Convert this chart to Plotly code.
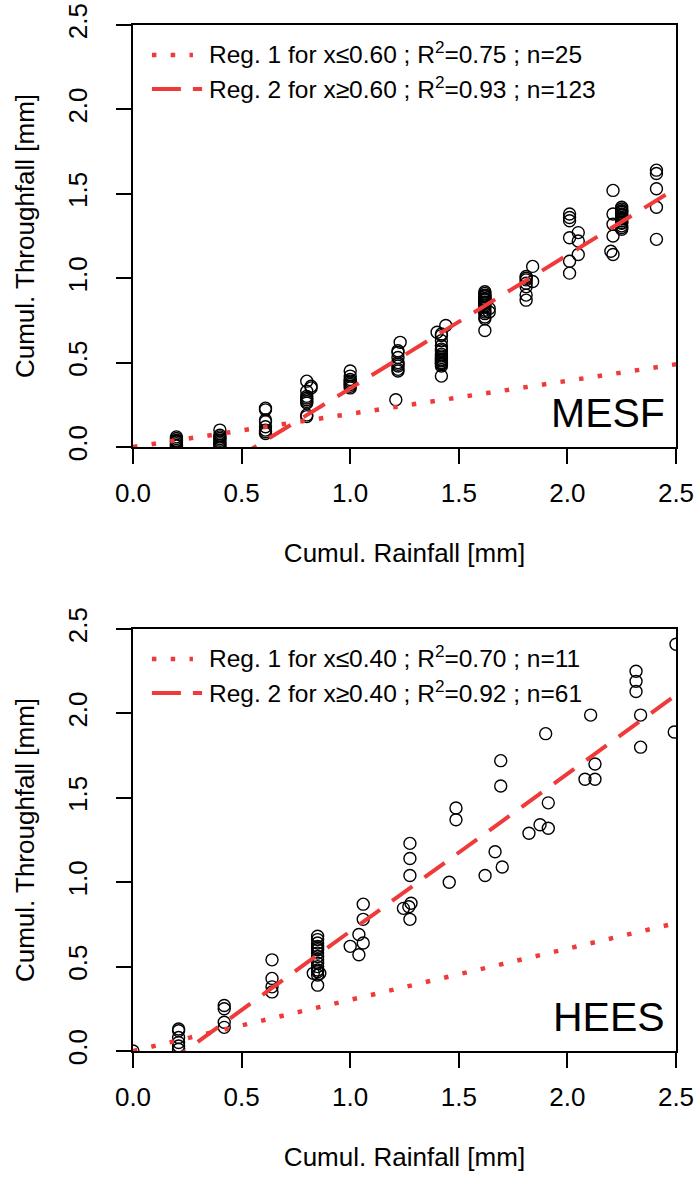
import plotly.graph_objects as go

# ---------------- DATA ----------------
# MESF (top panel)
mesf_x = ([0.20]*8 + [0.40]*9 + [0.61]*8 +
          [0.80]*9 + [0.82]*2 +
          [1.00]*8 +
          [1.23] + [1.22]*8 + [1.21] +
          [1.44, 1.40] + [1.42]*17 +
          [1.62]*19 + [1.64]*2 +
          [1.81]*7 + [1.84]*2 +
          [2.01]*6 + [2.05]*3 +
          [2.21]*4 + [2.20, 2.21] + [2.25]*17 +
          [2.41]*5)
mesf_y = ([0.06, 0.05, 0.04, 0.035, 0.03, 0.02, 0.01, 0.005] +
          [0.10, 0.07, 0.06, 0.05, 0.04, 0.03, 0.02, 0.01, 0.0] +
          [0.23, 0.22, 0.16, 0.15, 0.12, 0.10, 0.09, 0.08] +
          [0.39, 0.33, 0.29, 0.28, 0.27, 0.26, 0.19, 0.18, 0.30] + [0.36, 0.35] +
          [0.45, 0.42, 0.40, 0.39, 0.38, 0.37, 0.36, 0.35] +
          [0.62] + [0.57, 0.56, 0.53, 0.50, 0.49, 0.48, 0.46, 0.45] + [0.28] +
          [0.72, 0.68] + [0.67, 0.66, 0.63, 0.60, 0.58, 0.57, 0.55, 0.54, 0.53,
                          0.52, 0.515, 0.51, 0.50, 0.495, 0.49, 0.48, 0.42] +
          [0.92, 0.91, 0.90, 0.895, 0.89, 0.88, 0.875, 0.87, 0.86, 0.855, 0.85,
           0.84, 0.83, 0.81, 0.80, 0.79, 0.77, 0.76, 0.69] + [0.80, 0.82] +
          [1.01, 1.00, 0.99, 0.97, 0.95, 0.90, 0.87] + [1.07, 0.98] +
          [1.38, 1.36, 1.34, 1.24, 1.10, 1.03] + [1.27, 1.22, 1.14] +
          [1.52, 1.38, 1.32, 1.25] + [1.16, 1.14] +
          [1.42, 1.41, 1.40, 1.395, 1.39, 1.38, 1.375, 1.37, 1.36, 1.355, 1.35,
           1.34, 1.33, 1.325, 1.31, 1.30, 1.29] +
          [1.64, 1.62, 1.53, 1.42, 1.23])

# HEES (bottom panel)
hees_x = ([0.00] + [0.21]*6 + [0.42]*4 + [0.64]*4 +
          [0.85]*15 + [0.83, 0.86] +
          [1.00, 1.04, 1.04, 1.06, 1.06, 1.06] +
          [1.275, 1.275, 1.275, 1.28, 1.27, 1.245, 1.275] +
          [1.456, 1.487, 1.487, 1.621, 1.667, 1.70, 1.693, 1.693, 1.823, 1.874,
           1.912, 1.912, 1.90, 2.081, 2.127, 2.127, 2.107, 2.316, 2.316, 2.316,
           2.337, 2.337, 2.492, 2.50])
hees_y = ([0.0] + [0.13, 0.12, 0.08, 0.05, 0.03, 0.01] +
          [0.27, 0.25, 0.17, 0.14] +
          [0.54, 0.43, 0.38, 0.35] +
          [0.68, 0.66, 0.64, 0.62, 0.61, 0.60, 0.58, 0.56, 0.54, 0.52, 0.50,
           0.48, 0.47, 0.45, 0.39] + [0.46, 0.46] +
          [0.62, 0.57, 0.69, 0.64, 0.78, 0.87] +
          [1.23, 1.14, 1.04, 0.875, 0.855, 0.845, 0.78] +
          [1.00, 1.44, 1.37, 1.04, 1.18, 1.09, 1.72, 1.57, 1.29, 1.34,
           1.32, 1.47, 1.88, 1.61, 1.61, 1.70, 1.99, 2.25, 2.19, 2.13,
           1.99, 1.80, 1.89, 2.41])

# Regressions: (slope, intercept)
mesf_reg1 = (0.196, 0.0)
mesf_reg2 = (0.79, -0.443)
hees_reg1 = (0.303, 0.0)
hees_reg2 = (0.933, -0.224)

mesf_labels = ["Reg. 1 for x\u22640.60 ; R<sup>2</sup>=0.75 ; n=25",
               "Reg. 2 for x\u22650.60 ; R<sup>2</sup>=0.93 ; n=123"]
hees_labels = ["Reg. 1 for x\u22640.40 ; R<sup>2</sup>=0.70 ; n=11",
               "Reg. 2 for x\u22650.40 ; R<sup>2</sup>=0.92 ; n=61"]
site_names = ["MESF", "HEES"]

x_title = "Cumul. Rainfall [mm]"
y_title = "Cumul. Throughfall [mm]"
tick_vals = [0.0, 0.5, 1.0, 1.5, 2.0, 2.5]
x_line = [0.0, 2.5]

# ---------------- STYLE ----------------
RED = "#F03A3A"
FONT = "Liberation Sans, Arial, Helvetica, sans-serif"
DOT = "4.5px,14.3px"
DASH = "25px,15px"

fig = go.Figure()

panels = [
    ("x", "y", mesf_x, mesf_y, mesf_reg1, mesf_reg2, mesf_labels, site_names[0]),
    ("x2", "y2", hees_x, hees_y, hees_reg1, hees_reg2, hees_labels, site_names[1]),
]

for xa, ya, px, py, r1, r2, labels, site in panels:
    fig.add_trace(go.Scatter(
        x=px, y=py, mode="markers", xaxis=xa, yaxis=ya, showlegend=False,
        marker=dict(symbol="circle-open", size=12, color="black",
                    line=dict(width=1.4, color="black")),
        cliponaxis=True))
    fig.add_trace(go.Scatter(
        x=x_line, y=[r1[1] + r1[0] * v for v in x_line], mode="lines",
        xaxis=xa, yaxis=ya, showlegend=False,
        line=dict(color=RED, width=4.5, dash=DOT)))
    fig.add_trace(go.Scatter(
        x=x_line, y=[r2[1] + r2[0] * v for v in x_line], mode="lines",
        xaxis=xa, yaxis=ya, showlegend=False,
        line=dict(color=RED, width=4, dash=DASH)))
    # legend (R style, no border)
    fig.add_annotation(x=0.341, y=2.34, xref=xa, yref=ya, text=labels[0],
                       showarrow=False, xanchor="left", yanchor="middle",
                       font=dict(family=FONT, size=24.5, color="black"))
    fig.add_annotation(x=0.341, y=2.127, xref=xa, yref=ya, text=labels[1],
                       showarrow=False, xanchor="left", yanchor="middle",
                       font=dict(family=FONT, size=24.5, color="black"))
    fig.add_shape(type="line", xref=xa, yref=ya, x0=0.087, x1=0.276,
                  y0=2.322, y1=2.322, line=dict(color=RED, width=4.5, dash=DOT))
    fig.add_shape(type="line", xref=xa, yref=ya, x0=0.087, x1=0.318,
                  y0=2.121, y1=2.121, line=dict(color=RED, width=4, dash="29px,12px"))
    fig.add_annotation(x=2.46, y=0.20, xref=xa, yref=ya, text=site,
                       showarrow=False, xanchor="right", yanchor="middle",
                       font=dict(family=FONT, size=41, color="black"))

axis_common = dict(range=[0, 2.5], tickvals=tick_vals, tickformat=".1f",
                   ticks="outside", ticklen=15, tickwidth=1.6, tickcolor="black",
                   showline=True, linecolor="black", linewidth=1.8, mirror=True,
                   showgrid=False, zeroline=False, automargin=False,
                   ticklabeloverflow="allow",
                   tickfont=dict(family=FONT, size=26, color="black"))
x_extra = dict(ticklabelstandoff=7,
               title=dict(text=x_title, standoff=37,
                          font=dict(family=FONT, size=26, color="black")))
y_extra = dict(tickangle=-90, ticklabelstandoff=19,
               title=dict(text=y_title, standoff=21,
                          font=dict(family=FONT, size=26, color="black")))

fig.update_layout(
    width=700, height=1177,
    margin=dict(l=133, r=24, t=25, b=126, pad=0),
    paper_bgcolor="white", plot_bgcolor="white",
    showlegend=False,
    xaxis=dict(domain=[0, 1], anchor="y", **axis_common, **x_extra),
    yaxis=dict(domain=[0.5887, 1.0], anchor="x", **axis_common, **y_extra),
    xaxis2=dict(domain=[0, 1], anchor="y2", **axis_common, **x_extra),
    yaxis2=dict(domain=[0.0, 0.4113], anchor="x2", **axis_common, **y_extra),
)

# remove the browser's default 8px body margin so the figure fills the window
fig.write_html("out.html",
               config={"displayModeBar": False},
               post_script="document.body.style.margin='0';"
                           "document.body.style.overflow='hidden';")
